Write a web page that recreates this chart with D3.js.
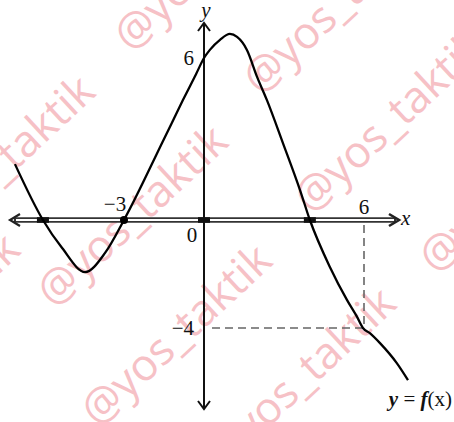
<!DOCTYPE html>
<html>
<head>
<meta charset="utf-8">
<script src="https://cdn.jsdelivr.net/npm/d3@7"></script>
<style>
  html,body{margin:0;padding:0;background:#fff;}
  svg{display:block;}
  .lbl{font-family:"Liberation Serif","DejaVu Serif",serif;font-size:21px;fill:#111;}
  .wm{font-family:"Open Sans","Noto Sans",sans-serif;font-size:44px;fill:#f6c1c6;}
</style>
</head>
<body>
<div id="chart"></div>
<script>
// curve of f
const curveX=[-7.09,-6.04,-5.32,-4.46,-3.71,-3,-1.5,-0.79,-0.3,0,0.22,0.6,0.97,1.24,1.61,1.99,2.36,2.96,3.6,3.97,4.72,5.36,5.74,5.96,6.22,6.6,7.23,7.65];
const curveY=[2.07,0,-1.04,-1.93,-1.22,0,3,4.44,5.4,6,6.3,6.67,6.89,6.78,6.3,5.3,4.44,2.85,1.11,0,-1.74,-2.96,-3.59,-4,-4.19,-4.56,-5.3,-5.93];
const xRoots=[-6.04,0,3.97];
const markedPoint=[-3,0];
const guidePoint=[6,-4];
const xTickLabels=[{v:-3,t:"\u22123"},{v:0,t:"0"},{v:6,t:"6"}];
const yTickLabels=[{v:6,t:"6"},{v:-4,t:"\u22124"}];
const watermarks=[[131,53],[260,96],[311,215],[-79,259],[54,309],[98,428],[222,471],[436,275],[-154,417]];

const W=454,H=422;
const x=d3.scaleLinear().domain([0,6]).range([204,364]);
const y=d3.scaleLinear().domain([0,6]).range([220,58]);
const x0=x(0),y0=y(0);

const svg=d3.select("#chart").append("svg").attr("width",W).attr("height",H);

// watermark text
svg.append("g").selectAll("text").data(watermarks).enter().append("text")
  .attr("class","wm")
  .attr("transform",d=>"translate("+d[0]+","+d[1]+") rotate(-43)")
  .text("@yos_taktik");

// x axis, double line
svg.append("line").attr("x1",14).attr("x2",396).attr("y1",y0).attr("y2",y0)
  .style("stroke","#333").style("stroke-width",5.5);
svg.append("line").attr("x1",16).attr("x2",394).attr("y1",y0).attr("y2",y0)
  .style("stroke","#fff").style("stroke-width",2);
svg.append("path").attr("d","M20,"+(y0-6)+"L10,"+y0+"L20,"+(y0+6))
  .style("fill","none").style("stroke","#222").style("stroke-width",2.2);
svg.append("path").attr("d","M389,"+(y0-6)+"L399,"+y0+"L389,"+(y0+6))
  .style("fill","none").style("stroke","#222").style("stroke-width",2.6);
svg.append("g").selectAll("rect").data(xRoots).enter().append("rect")
  .attr("x",d=>x(d)-6).attr("y",y0-2.8).attr("width",12).attr("height",5.6)
  .style("fill","#111");

// y axis
svg.append("line").attr("x1",x0).attr("x2",x0).attr("y1",23).attr("y2",409)
  .style("stroke","#111").style("stroke-width",2);
svg.append("path").attr("d","M"+(x0-6)+",31L"+x0+",23L"+(x0+6)+",31")
  .style("fill","none").style("stroke","#111").style("stroke-width",2);
svg.append("path").attr("d","M"+(x0-6)+",401L"+x0+",409L"+(x0+6)+",401")
  .style("fill","none").style("stroke","#111").style("stroke-width",2);

// dashed guides to (6,-4)
svg.append("path")
  .attr("d","M"+x(guidePoint[0])+","+(y0+5)+"V"+y(guidePoint[1])+"H"+(x0+8))
  .style("fill","none").style("stroke","#666").style("stroke-width",1.6)
  .style("stroke-dasharray","8,5");

// the curve
const line=d3.line().x((d,i)=>x(curveX[i])).y((d,i)=>y(curveY[i]))
  .curve(d3.curveMonotoneX);
svg.append("path").datum(curveX).attr("d",line)
  .style("fill","none").style("stroke","#000").style("stroke-width",2.3)
  .style("stroke-linejoin","round");

svg.append("circle").attr("cx",x(markedPoint[0])).attr("cy",y(markedPoint[1])).attr("r",4)
  .style("fill","#000");

// labels
const xPos={"-3":[x(-3)-9,211],"0":[x0-12,242],"6":[x(6),214]};
svg.append("g").selectAll("text").data(xTickLabels).enter().append("text")
  .attr("class","lbl").attr("text-anchor","middle")
  .attr("x",d=>xPos[d.v][0]).attr("y",d=>xPos[d.v][1]).text(d=>d.t);
svg.append("g").selectAll("text").data(yTickLabels).enter().append("text")
  .attr("class","lbl").attr("text-anchor","end")
  .attr("x",x0-10).attr("y",d=>y(d.v)+7).text(d=>d.t);

svg.append("text").attr("class","lbl").attr("x",x0+2).attr("y",17)
  .attr("text-anchor","middle").style("font-style","italic").text("y");
svg.append("text").attr("class","lbl").attr("x",401).attr("y",225)
  .style("font-style","italic").text("x");

const eq=svg.append("text").attr("class","lbl").attr("x",452).attr("y",406)
  .attr("text-anchor","end");
eq.append("tspan").style("font-style","italic").style("font-weight","bold").text("y");
eq.append("tspan").text(" = ");
eq.append("tspan").style("font-style","italic").style("font-weight","bold").text("f");
eq.append("tspan").text("(x)");
</script>
</body>
</html>
